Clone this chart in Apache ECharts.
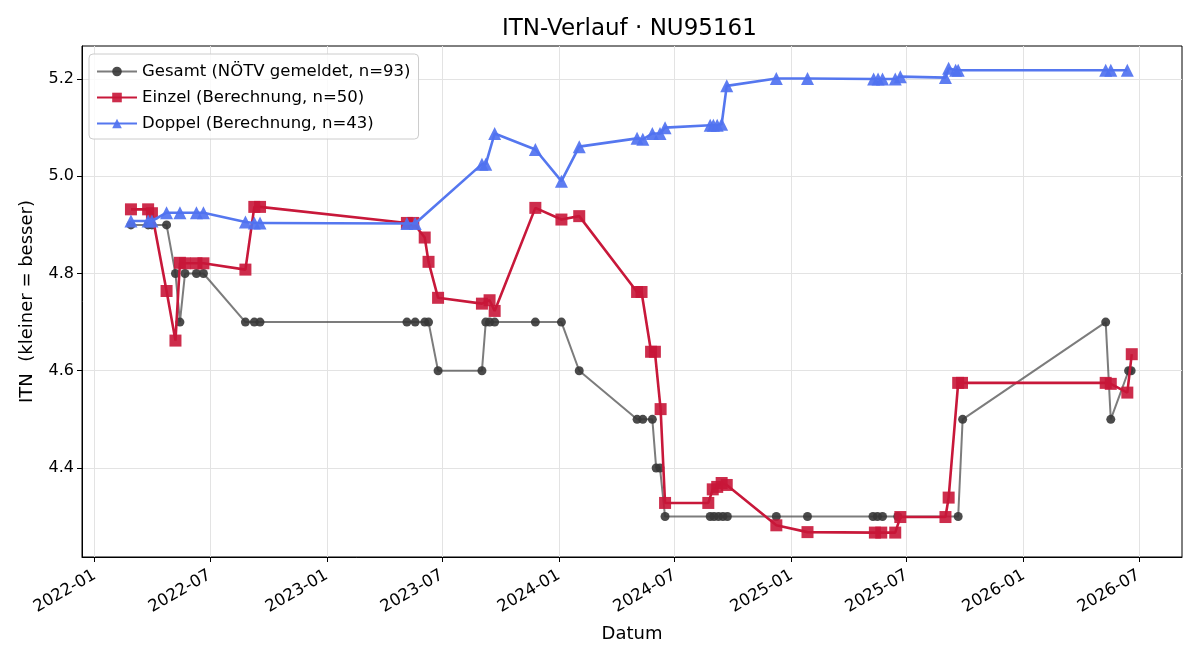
<!DOCTYPE html>
<html>
<head>
<meta charset="utf-8">
<script src="https://cdn.jsdelivr.net/npm/echarts@6/dist/echarts.min.js"></script>
<style>
html,body{margin:0;padding:0;background:#fff;}
#chart{width:1200px;height:660px;}
</style>
</head>
<body>
<div id="chart"></div>
<script>
/**
 * =====================================================
 * ITN-Verlauf : Daten
 * =====================================================
 */

const gesamtDates=[
    "2022-02-27","2022-03-26","2022-04-01","2022-04-24","2022-05-08","2022-05-15",
    "2022-05-23","2022-06-10","2022-06-21","2022-08-26","2022-09-09","2022-09-18",
    "2023-05-07","2023-05-20","2023-06-04","2023-06-10","2023-06-25","2023-09-02",
    "2023-09-08","2023-09-14","2023-09-22","2023-11-25","2024-01-05","2024-02-02",
    "2024-05-03","2024-05-12","2024-05-27","2024-06-02","2024-06-08","2024-06-16",
    "2024-08-26","2024-09-01","2024-09-08","2024-09-15","2024-09-22","2024-12-08",
    "2025-01-26","2025-05-09","2025-05-16","2025-05-24","2025-06-17","2025-09-20",
    "2025-09-27","2026-05-10","2026-05-18","2026-06-15","2026-06-19"
];

const gesamtValues=[
    4.9,4.9,4.9,4.9,4.8,4.7,
    4.8,4.8,4.8,4.7,4.7,4.7,
    4.7,4.7,4.7,4.7,4.6,4.6,
    4.7,4.7,4.7,4.7,4.7,4.6,
    4.5,4.5,4.5,4.4,4.4,4.3,
    4.3,4.3,4.3,4.3,4.3,4.3,
    4.3,4.3,4.3,4.3,4.3,4.3,
    4.5,4.7,4.5,4.6,4.6
];

const einzelDates=[
    "2022-02-27","2022-03-26","2022-04-01","2022-04-24","2022-05-08","2022-05-15",
    "2022-05-23","2022-06-10","2022-06-21","2022-08-26","2022-09-09","2022-09-18",
    "2023-05-07","2023-05-17","2023-06-04","2023-06-10","2023-06-25","2023-09-02",
    "2023-09-14","2023-09-22","2023-11-25","2024-01-05","2024-02-02","2024-05-03",
    "2024-05-10","2024-05-25","2024-05-31","2024-06-09","2024-06-16","2024-08-23",
    "2024-08-30","2024-09-06","2024-09-13","2024-09-21","2024-12-08","2025-01-26",
    "2025-05-12","2025-05-22","2025-06-13","2025-06-21","2025-08-31","2025-09-05",
    "2025-09-20","2025-09-26","2026-05-10","2026-05-18","2026-06-13","2026-06-20"
];

const einzelValues=[
    4.932,4.932,4.924,4.764,4.662,4.822,
    4.821,4.821,4.821,4.808,4.937,4.937,
    4.904,4.904,4.874,4.824,4.750,4.738,
    4.745,4.723,4.935,4.911,4.918,4.762,
    4.762,4.639,4.639,4.521,4.328,4.328,
    4.356,4.361,4.369,4.365,4.282,4.268,
    4.267,4.267,4.267,4.299,4.299,4.339,
    4.575,4.575,4.575,4.573,4.555,4.634
];

const doppelDates=[
    "2022-02-27","2022-03-26","2022-04-01","2022-04-24","2022-05-15","2022-06-10",
    "2022-06-21","2022-08-26","2022-09-09","2022-09-18","2023-05-07","2023-05-20",
    "2023-09-02","2023-09-08","2023-09-22","2023-11-25","2024-01-05","2024-02-02",
    "2024-05-03","2024-05-12","2024-05-27","2024-06-08","2024-06-16","2024-08-26",
    "2024-08-31","2024-09-06","2024-09-13","2024-09-21","2024-12-08","2025-01-26",
    "2025-05-10","2025-05-17","2025-05-24","2025-06-13","2025-06-21","2025-08-31",
    "2025-09-05","2025-09-16","2025-09-20","2026-05-10","2026-05-18","2026-06-13"
];

const doppelValues=[
    4.908,4.908,4.908,4.925,4.925,4.925,
    4.925,4.906,4.904,4.904,4.903,4.903,
    5.025,5.025,5.088,5.055,4.990,5.061,
    5.078,5.076,5.088,5.088,5.100,5.105,
    5.105,5.105,5.107,5.186,5.201,5.201,
    5.200,5.200,5.200,5.200,5.205,5.203,
    5.222,5.218,5.218,5.218,5.218,5.218
];

const xTicks=[
    "2022-01-01","2022-07-01","2023-01-01","2023-07-01","2024-01-01",
    "2024-07-01","2025-01-01","2025-07-01","2026-01-01","2026-07-01"
];

const yTicks=[4.4,4.6,4.8,5.0,5.2];

/**
 * =====================================================
 * Hilfsfunktionen
 * =====================================================
 */

function toTime(d){
    return new Date(d+"T00:00:00Z").getTime();
}

function pairs(dates,values){
    return dates.map((d,i)=>[toTime(d),values[i]]);
}

function monthLabel(value){
    const d=new Date(value);
    const m=String(d.getUTCMonth()+1).padStart(2,"0");
    return d.getUTCFullYear()+"-"+m;
}

const FONT="DejaVu Sans";

const xTickTimes=xTicks.map(toTime);

/**
 * =====================================================
 * Chart
 * =====================================================
 */

const chart=echarts.init(document.getElementById("chart"));

chart.setOption({
    backgroundColor:"#ffffff",
    animation:false,
    textStyle:{fontFamily:FONT},
    title:{
        text:"ITN-Verlauf · NU95161",
        left:502,
        top:18,
        padding:0,
        textStyle:{fontFamily:FONT,fontSize:23,fontWeight:"normal",color:"#000"}
    },
    legend:{
        orient:"vertical",
        left:89,
        top:54,
        itemWidth:40,
        itemHeight:12,
        itemGap:9,
        padding:[9,8,7,7],
        backgroundColor:"rgba(255,255,255,0.8)",
        borderColor:"#cccccc",
        borderWidth:1,
        borderRadius:4,
        textStyle:{fontFamily:FONT,fontSize:16.5,color:"#000"},
        data:[
            "Gesamt (NÖTV gemeldet, n=93)",
            "Einzel (Berechnung, n=50)",
            "Doppel (Berechnung, n=43)"
        ]
    },
    grid:{
        left:82,
        right:18,
        top:46,
        bottom:103,
        show:true,
        borderColor:"#000",
        borderWidth:1
    },
    xAxis:{
        type:"value",
        min:toTime("2021-12-12"),
        max:toTime("2026-09-07"),
        name:"Datum",
        nameLocation:"middle",
        nameGap:68,
        nameTextStyle:{fontFamily:FONT,fontSize:18,color:"#000"},
        axisLine:{show:true,onZero:false,lineStyle:{color:"#000",width:1}},
        axisTick:{show:true,customValues:xTickTimes,length:5,lineStyle:{color:"#000"}},
        axisLabel:{
            customValues:xTickTimes,
            rotate:30,
            fontFamily:FONT,
            fontSize:16.5,
            color:"#000",
            margin:17,
            formatter:monthLabel
        },
        splitLine:{show:true,lineStyle:{color:"#e3e3e3",width:1}}
    },
    yAxis:{
        type:"value",
        min:4.2168,
        max:5.268,
        name:"ITN  (kleiner = besser)",
        nameLocation:"middle",
        nameGap:46,
        nameTextStyle:{fontFamily:FONT,fontSize:18,color:"#000"},
        axisLine:{show:true,onZero:false,lineStyle:{color:"#000",width:1}},
        axisTick:{show:true,customValues:yTicks,length:5,lineStyle:{color:"#000"}},
        axisLabel:{
            customValues:yTicks,
            fontFamily:FONT,
            fontSize:16,
            color:"#000",
            margin:8,
            formatter:v=>Number(v).toFixed(1)
        },
        splitLine:{show:true,lineStyle:{color:"#e3e3e3",width:1}}
    },
    series:[
        {
            name:"Gesamt (NÖTV gemeldet, n=93)",
            type:"line",
            data:pairs(gesamtDates,gesamtValues),
            symbol:"circle",
            symbolSize:9,
            showAllSymbol:true,
            lineStyle:{color:"rgba(68,68,68,0.7)",width:2},
            itemStyle:{color:"rgba(55,55,55,0.9)",borderWidth:0},
            z:2
        },
        {
            name:"Einzel (Berechnung, n=50)",
            type:"line",
            data:pairs(einzelDates,einzelValues),
            symbol:"rect",
            symbolSize:12,
            showAllSymbol:true,
            lineStyle:{color:"#c8183a",width:2.6},
            itemStyle:{color:"rgba(200,22,56,0.9)",borderWidth:0},
            z:3
        },
        {
            name:"Doppel (Berechnung, n=43)",
            type:"line",
            data:pairs(doppelDates,doppelValues),
            symbol:"triangle",
            symbolSize:13,
            showAllSymbol:true,
            lineStyle:{color:"#5577ef",width:2.6},
            itemStyle:{color:"rgba(80,114,240,0.92)",borderWidth:0},
            z:4
        }
    ]
});
</script>
</body>
</html>
